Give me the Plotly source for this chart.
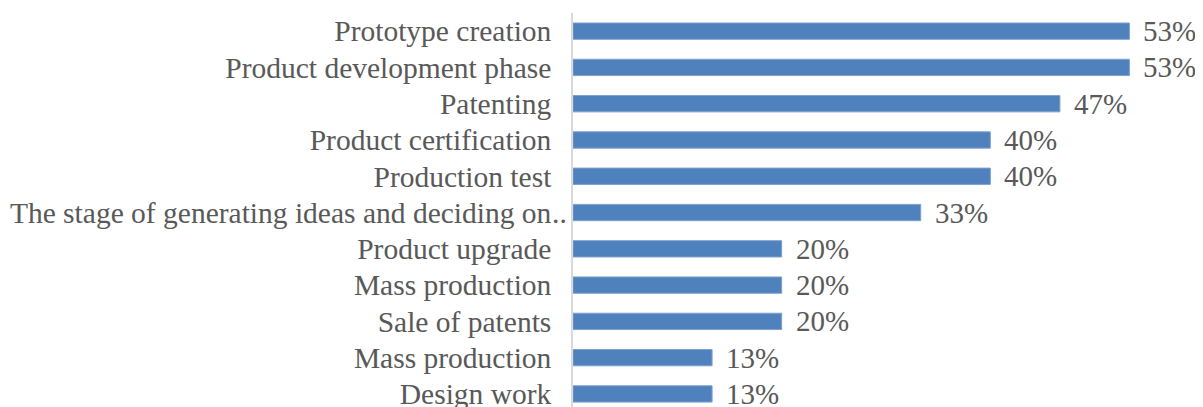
import plotly.graph_objects as go

categories = [
    "Prototype creation",
    "Product development phase",
    "Patenting",
    "Product certification",
    "Production test",
    "The stage of generating ideas and deciding on..",
    "Product upgrade",
    "Mass production",
    "Sale of patents",
    "Mass production",
    "Design work",
]
values = [53.33, 53.33, 46.67, 40.0, 40.0, 33.33, 20.0, 20.0, 20.0, 13.33, 13.33]
value_labels = [f"{round(v)}%" for v in values]
positions = list(range(len(categories)))

FONT = "Liberation Serif, Times New Roman, serif"
TXT = "#595959"
LBL_SIZE = 29.5

# Excel-style truncated label: the trailing ".." hangs past the label column
tick_texts = [c[:-2] if c.endswith("..") else c for c in categories]

fig = go.Figure()
fig.add_trace(go.Bar(
    x=values,
    y=positions,
    orientation="h",
    marker=dict(color="#4F81BD", line=dict(color="#7DA2D1", width=1)),
    width=0.45,
    hoverinfo="skip",
    cliponaxis=False,
))

for p, v, t in zip(positions, values, value_labels):
    fig.add_annotation(
        x=v, y=p, text=t, showarrow=False, xanchor="left", yanchor="middle",
        xshift=12, font=dict(family=FONT, size=29, color=TXT),
    )

for p, c in zip(positions, categories):
    if c.endswith(".."):
        fig.add_annotation(
            x=0, y=p, text="..", showarrow=False, xanchor="right",
            yanchor="middle", xshift=-4,
            font=dict(family=FONT, size=LBL_SIZE, color=TXT),
        )

fig.update_layout(
    width=1195, height=399,
    margin=dict(l=565, r=4, t=5, b=0, autoexpand=False),
    paper_bgcolor="white", plot_bgcolor="white",
    showlegend=False,
    xaxis=dict(range=[0, 60], visible=False, showgrid=False, zeroline=False,
               automargin=False),
    yaxis=dict(
        range=[10.36, -0.5], automargin=False,
        tickmode="array", tickvals=positions, ticktext=tick_texts,
        showgrid=False, zeroline=False,
        showline=True, linecolor="#D9D9D9", linewidth=1.5,
        ticks="", ticklabelstandoff=14, ticklabeloverflow="allow",
        tickfont=dict(family=FONT, size=LBL_SIZE, color=TXT),
    ),
)

fig.write_html("out.html")
